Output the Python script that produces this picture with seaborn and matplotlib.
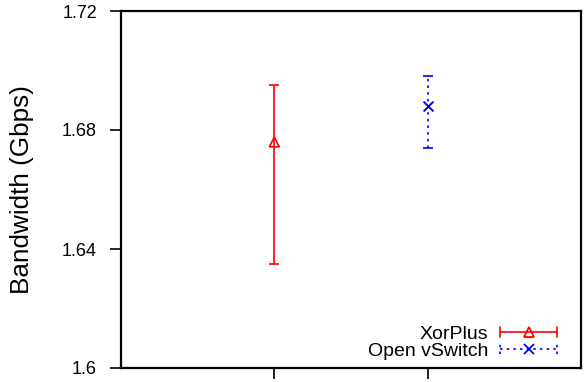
import matplotlib
matplotlib.use("Agg")
import matplotlib.pyplot as plt
import seaborn as sns
import pandas as pd
from matplotlib.lines import Line2D
from matplotlib.legend_handler import HandlerBase

systems = ["XorPlus", "Open vSwitch"]
positions = [1, 2]
means = [1.676, 1.688]
lows = [1.635, 1.674]
highs = [1.695, 1.698]
colors = ["#ff0000", "#0000ff"]
markers = ["^", "x"]
yticks = [1.6, 1.64, 1.68, 1.72]
ytick_labels = ["1.6", "1.64", "1.68", "1.72"]

sns.set_style("ticks")
plt.rcParams["font.family"] = ["Liberation Sans", "DejaVu Sans"]
plt.rcParams["text.color"] = "black"
plt.rcParams["axes.labelcolor"] = "black"

fig = plt.figure(figsize=(5.84, 3.82), dpi=100)
ax = fig.add_axes([121/584, 14/382, 460/584, 357/382])

df = pd.DataFrame({"x": positions, "y": means, "sys": systems})

dotted = (0, (1.5, 2.5))
linestyles = ["-", dotted]
for i, s in enumerate(systems):
    cont = ax.errorbar(positions[i], means[i],
                       yerr=[[means[i]-lows[i]], [highs[i]-means[i]]],
                       fmt="none", ecolor=colors[i], elinewidth=1.2, capsize=3.5,
                       capthick=1.2)
    cont.lines[2][0].set_linestyle(linestyles[i])

for i, s in enumerate(systems):
    sub = df[df["sys"] == s]
    if markers[i] == "^":
        sns.scatterplot(data=sub, x="x", y="y", marker="^", s=50,
                        facecolors="none", edgecolor=colors[i], linewidth=1.2,
                        ax=ax, legend=False, zorder=5)
    else:
        sns.scatterplot(data=sub, x="x", y="y", marker="x", s=50,
                        color=colors[i], linewidth=1.4,
                        ax=ax, legend=False, zorder=5)

ax.set_xlim(0, 3)
ax.set_ylim(1.6, 1.72)
ax.set_xticks(positions)
ax.set_xticklabels(["", ""])
ax.set_yticks(yticks)
ax.set_yticklabels(ytick_labels)
ax.set_xlabel("")
ax.set_ylabel("Bandwidth (Gbps)", fontsize=18.8, labelpad=20)
ax.tick_params(axis="both", direction="out", length=8, width=1.2, labelsize=13,
               color="black", labelcolor="black")
ax.tick_params(axis="y", pad=9.3)
for sp in ax.spines.values():
    sp.set_linewidth(1.6)
    sp.set_color("black")
    sp.set_visible(True)


class ErrHandler(HandlerBase):
    def __init__(self, color, marker, ls):
        super().__init__()
        self.color = color
        self.marker = marker
        self.ls = ls

    def create_artists(self, legend, orig_handle, xdescent, ydescent,
                       width, height, fontsize, trans):
        y = height / 2 - ydescent
        x0, x1 = -xdescent, width - xdescent
        line = Line2D([x0, x1], [y, y], color=self.color, lw=1.2, linestyle=self.ls)
        capl = Line2D([x0, x0], [y - 3.5, y + 3.5], color=self.color, lw=1.2, linestyle=self.ls)
        capr = Line2D([x1, x1], [y - 3.5, y + 3.5], color=self.color, lw=1.2, linestyle=self.ls)
        mk = Line2D([(x0 + x1) / 2], [y], marker=self.marker, color=self.color,
                    markerfacecolor="none" if self.marker == "^" else self.color,
                    markersize=6.5, mew=1.3, linestyle="none")
        arts = [line, capl, capr, mk]
        for a in arts:
            a.set_transform(trans)
        return arts


handles = [Line2D([], []), Line2D([], [])]
hmap = {handles[0]: ErrHandler(colors[0], "^", "-"),
        handles[1]: ErrHandler(colors[1], "x", dotted)}
leg = ax.legend(handles, systems, loc="lower right", markerfirst=False,
                frameon=False, fontsize=14, handler_map=hmap, handlelength=2.93,
                handletextpad=0.62, labelspacing=0.0, borderaxespad=0.0,
                borderpad=0.0, bbox_to_anchor=(0.948, 0.022))

fig.savefig("out.png", dpi=100)
